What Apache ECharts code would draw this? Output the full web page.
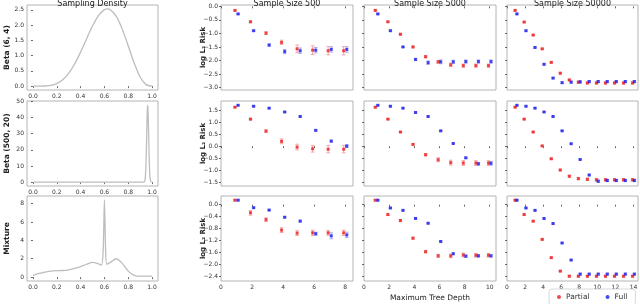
<!DOCTYPE html>
<html><head><meta charset="utf-8">
<script src="https://cdn.jsdelivr.net/npm/echarts@6/dist/echarts.min.js"></script>
<style>html,body{margin:0;padding:0;background:#fff}#c{width:640px;height:304px}</style>
</head><body><div id="c"></div>
<script>
// ---------- Sampling densities ----------
const beta64X = [0,0.05,0.1,0.15,0.2,0.25,0.3,0.35,0.4,0.45,0.5,0.55,0.6,0.625,0.65,0.7,0.75,0.8,0.85,0.9,0.95,1.0];
const beta64Y = [0,0,0.004,0.024,0.083,0.208,0.42,0.727,1.115,1.547,1.969,2.311,2.508,2.535,2.508,2.287,1.869,1.321,0.755,0.298,0.049,0];
const beta50020X = [0,0.1,0.2,0.3,0.4,0.5,0.6,0.7,0.8,0.9,0.93,0.94,0.945,0.95,0.955,0.96,0.9633,0.965,0.97,0.975,0.98,0.985,0.99,0.995,1.0];
const beta50020Y = [0,0,0,0,0,0,0,0,0,0,0.02,1.0,4.4,13.6,29.0,43.9,47.4,46.5,34.4,18.0,6.5,1.7,0.3,0.02,0];
const mixtureX = [0,0.05,0.1,0.15,0.2,0.25,0.3,0.35,0.4,0.45,0.5,0.55,0.575,0.59,0.6,0.61,0.62,0.65,0.7,0.75,0.8,0.85,0.9,1.0];
const mixtureY = [0.2,0.4,0.55,0.65,0.7,0.72,0.8,0.95,1.15,1.4,1.6,1.45,1.3,3.0,8.4,3.0,1.4,1.6,2.0,1.5,0.65,0.2,0.1,0.1];

// ---------- Tree depths ----------
const depth500 = [1,2,3,4,5,6,7,8];
const depth5000 = [1,2,3,4,5,6,7,8,9,10];
const depth50000 = [1,2,3,4,5,6,7,8,9,10,11,12,13,14];

// ---------- Beta(6,4) log L2 risk ----------
const b64_500_partial = [-0.15,-0.57,-0.99,-1.33,-1.57,-1.62,-1.64,-1.64];
const b64_500_full = [-0.28,-0.9,-1.43,-1.67,-1.64,-1.62,-1.59,-1.59];
const b64_500_partialErr = [0.02,0.03,0.05,0.08,0.14,0.16,0.15,0.15];
const b64_500_fullErr = [0.02,0.02,0.04,0.08,0.1,0.1,0.1,0.1];
const b64_5000_partial = [-0.15,-0.57,-1.03,-1.5,-1.86,-2.05,-2.16,-2.19,-2.19,-2.19];
const b64_5000_full = [-0.28,-0.9,-1.5,-1.96,-2.08,-2.05,-2.05,-2.04,-2.04,-2.04];
const b64_5000_partialErr = [0.02,0.02,0.02,0.03,0.04,0.05,0.06,0.06,0.06,0.06];
const b64_5000_fullErr = [0.02,0.02,0.02,0.03,0.06,0.07,0.06,0.06,0.06,0.06];
const b64_50000_partial = [-0.15,-0.58,-1.06,-1.57,-2.07,-2.47,-2.72,-2.8,-2.83,-2.83,-2.83,-2.83,-2.83,-2.83];
const b64_50000_full = [-0.28,-0.9,-1.52,-2.14,-2.65,-2.82,-2.8,-2.79,-2.78,-2.78,-2.78,-2.78,-2.78,-2.78];
const b64_50000_partialErr = [0.02,0.02,0.02,0.02,0.02,0.03,0.03,0.04,0.04,0.04,0.04,0.04,0.04,0.04];
const b64_50000_fullErr = [0.02,0.02,0.02,0.02,0.02,0.03,0.04,0.04,0.04,0.04,0.04,0.04,0.04,0.04];

// ---------- Beta(500,20) log L2 risk ----------
const b520_500_partial = [1.63,1.13,0.63,0.2,-0.04,-0.11,-0.13,-0.13];
const b520_500_full = [1.71,1.67,1.59,1.43,1.24,0.66,0.21,0.0];
const b520_500_partialErr = [0.02,0.03,0.05,0.1,0.12,0.14,0.15,0.15];
const b520_500_fullErr = [0.02,0.02,0.02,0.02,0.02,0.03,0.04,0.06];
const b520_5000_partial = [1.63,1.13,0.59,0.07,-0.36,-0.57,-0.69,-0.71,-0.71,-0.71];
const b520_5000_full = [1.71,1.67,1.59,1.41,1.24,0.64,0.11,-0.49,-0.74,-0.72];
const b520_5000_partialErr = [0.02,0.02,0.02,0.03,0.05,0.08,0.1,0.1,0.1,0.1];
const b520_5000_fullErr = [0.02,0.02,0.02,0.02,0.02,0.02,0.02,0.03,0.06,0.08];
const b520_50000_partial = [1.63,1.13,0.59,0.01,-0.53,-1.0,-1.26,-1.36,-1.39,-1.41,-1.41,-1.41,-1.41,-1.41];
const b520_50000_full = [1.71,1.67,1.59,1.43,1.24,0.64,0.1,-0.56,-1.21,-1.47,-1.44,-1.44,-1.44,-1.44];
const b520_50000_partialErr = [0.02,0.02,0.02,0.02,0.03,0.03,0.04,0.05,0.05,0.05,0.05,0.05,0.05,0.05];
const b520_50000_fullErr = [0.02,0.02,0.02,0.02,0.02,0.02,0.02,0.02,0.03,0.05,0.05,0.05,0.05,0.05];

// ---------- Mixture log L2 risk ----------
const mix_500_partial = [0.15,-0.27,-0.5,-0.85,-0.95,-0.94,-0.94,-0.94];
const mix_500_full = [0.15,-0.1,-0.18,-0.42,-0.55,-0.97,-1.04,-1.01];
const mix_500_partialErr = [0.02,0.08,0.06,0.08,0.08,0.09,0.08,0.09];
const mix_500_fullErr = [0.02,0.02,0.02,0.02,0.03,0.05,0.1,0.09];
const mix_5000_partial = [0.15,-0.33,-0.53,-1.12,-1.57,-1.71,-1.71,-1.68,-1.69,-1.69];
const mix_5000_full = [0.15,-0.11,-0.19,-0.46,-0.62,-1.23,-1.64,-1.72,-1.71,-1.71];
const mix_5000_partialErr = [0.02,0.03,0.03,0.03,0.04,0.05,0.06,0.06,0.06,0.06];
const mix_5000_fullErr = [0.02,0.02,0.02,0.02,0.02,0.02,0.03,0.04,0.04,0.04];
const mix_50000_partial = [0.15,-0.33,-0.55,-1.16,-1.77,-2.22,-2.39,-2.39,-2.39,-2.39,-2.39,-2.39,-2.39,-2.39];
const mix_50000_full = [0.15,-0.11,-0.19,-0.46,-0.63,-1.28,-1.85,-2.32,-2.32,-2.32,-2.32,-2.32,-2.32,-2.32];
const mix_50000_partialErr = [0.02,0.02,0.02,0.02,0.02,0.02,0.03,0.03,0.03,0.03,0.03,0.03,0.03,0.03];
const mix_50000_fullErr = [0.02,0.02,0.02,0.02,0.02,0.02,0.02,0.03,0.03,0.03,0.03,0.03,0.03,0.03];

// ---------- Tick labels & texts ----------
const densXTicks = [0,0.2,0.4,0.6,0.8,1.0];
const beta64YTicks = [0,0.5,1.0,1.5,2.0,2.5];
const beta50020YTicks = [0,10,20,30,40,50];
const mixtureYTicks = [0,2,4,6,8];
const b64RiskTicks = [0,-0.5,-1.0,-1.5,-2.0,-2.5,-3.0];
const b520RiskTicks = [1.5,1.0,0.5,0.0,-0.5,-1.0,-1.5];
const mixRiskTicks = [0,-0.4,-0.8,-1.2,-1.6,-2.0,-2.4];
const depthTicks500 = [0,2,4,6,8];
const depthTicks5000 = [0,2,4,6,8,10];
const depthTicks50000 = [0,2,4,6,8,10,12,14];
const rowNames = ['Beta (6, 4)', 'Beta (500, 20)', 'Mixture'];
const colTitles = ['Sampling Density', 'Sample Size 500', 'Sample Size 5000', 'Sample Size 50000'];
const seriesNames = ['Partial', 'Full'];

// ---------- layout ----------
const FONT = 'DejaVu Sans';
const RED = '#ee1d1d', BLUE = '#1d1dee';
const RED_ERR = '#f4a6a6', BLUE_ERR = '#aaaaf2';
const colLeft = [27, 221, 364, 507];
const colW = [131, 132, 132, 131];
const rowTop = [5, 101, 196];
const rowH = 85;

const grids = [], xAxes = [], yAxes = [], series = [];

function fmt1(v){ return (v < 0 ? '\u2212' : '') + Math.abs(v).toFixed(1); }
function fmt0(v){ return (v < 0 ? '\u2212' : '') + Math.abs(v).toFixed(0); }

function mkAxis(gi, min, max, ticks, showLab, fmt) {
  return {
    type: 'value', gridIndex: gi, min: min, max: max,
    axisLine: {show: false},
    axisTick: {show: true, customValues: ticks, length: 2, lineStyle: {color: '#444', width: 0.8}},
    axisLabel: {show: showLab, customValues: ticks, formatter: fmt, fontSize: 6, color: '#333', fontFamily: FONT, margin: 3},
    splitLine: {show: false},
    nameMoveOverlap: false
  };
}

function addGrid(r, c) {
  grids.push({left: colLeft[c], top: rowTop[r], width: colW[c], height: rowH, show: true,
    borderColor: '#b4b4b4', borderWidth: 1, containLabel: false, outerBoundsMode: 'none'});
  return grids.length - 1;
}

const densData = [[beta64X, beta64Y, [-0.127, 2.66], beta64YTicks, fmt1],
                  [beta50020X, beta50020Y, [-2.4, 50.2], beta50020YTicks, fmt0],
                  [mixtureX, mixtureY, [-0.42, 8.82], mixtureYTicks, fmt0]];
const riskData = [
  {yr: [-3.09, 0.05], ticks: b64RiskTicks, cols: [
    [depth500, b64_500_partial, b64_500_full, b64_500_partialErr, b64_500_fullErr],
    [depth5000, b64_5000_partial, b64_5000_full, b64_5000_partialErr, b64_5000_fullErr],
    [depth50000, b64_50000_partial, b64_50000_full, b64_50000_partialErr, b64_50000_fullErr]]},
  {yr: [-1.67, 1.89], ticks: b520RiskTicks, cols: [
    [depth500, b520_500_partial, b520_500_full, b520_500_partialErr, b520_500_fullErr],
    [depth5000, b520_5000_partial, b520_5000_full, b520_5000_partialErr, b520_5000_fullErr],
    [depth50000, b520_50000_partial, b520_50000_full, b520_50000_partialErr, b520_50000_fullErr]]},
  {yr: [-2.55, 0.29], ticks: mixRiskTicks, cols: [
    [depth500, mix_500_partial, mix_500_full, mix_500_partialErr, mix_500_fullErr],
    [depth5000, mix_5000_partial, mix_5000_full, mix_5000_partialErr, mix_5000_fullErr],
    [depth50000, mix_50000_partial, mix_50000_full, mix_50000_partialErr, mix_50000_fullErr]]}
];
const xMax = [8.5, 10.5, 14.5];
const xTicks = [depthTicks500, depthTicks5000, depthTicks50000];

function errRenderer(color) {
  return function (params, api) {
    const x = api.value(0), y = api.value(1), e = api.value(2);
    const a = api.coord([x, y + e]), b = api.coord([x, y - e]);
    const cw = 1.8;
    const st = {stroke: color, lineWidth: 1};
    return {type: 'group', children: [
      {type: 'line', shape: {x1: a[0], y1: a[1], x2: b[0], y2: b[1]}, style: st},
      {type: 'line', shape: {x1: a[0] - cw, y1: a[1], x2: a[0] + cw, y2: a[1]}, style: st},
      {type: 'line', shape: {x1: b[0] - cw, y1: b[1], x2: b[0] + cw, y2: b[1]}, style: st}
    ]};
  };
}

for (let r = 0; r < 3; r++) {
  const gi = addGrid(r, 0);
  const d = densData[r];
  xAxes.push(mkAxis(gi, -0.05, 1.05, densXTicks, true, fmt1));
  const ya = mkAxis(gi, d[2][0], d[2][1], d[3], true, d[4]);
  ya.name = rowNames[r]; ya.nameLocation = 'middle'; ya.nameGap = 16; ya.nameRotate = 90;
  ya.nameTextStyle = {fontSize: 7.5, fontWeight: 'bold', color: '#222', fontFamily: FONT};
  yAxes.push(ya);
  series.push({type: 'line', xAxisIndex: gi, yAxisIndex: gi, data: d[0].map((x, i) => [x, d[1][i]]),
    showSymbol: false, smooth: 0.25, lineStyle: {color: '#bdbdbd', width: 1.3}, silent: true});

  for (let c = 0; c < 3; c++) {
    const g = addGrid(r, c + 1);
    const rd = riskData[r];
    const cd = rd.cols[c];
    const xa2 = mkAxis(g, 0, xMax[c], xTicks[c], r === 2, fmt0);
    if (r === 2 && c === 1) {
      xa2.name = 'Maximum Tree Depth'; xa2.nameLocation = 'middle'; xa2.nameGap = 13;
      xa2.nameTextStyle = {fontSize: 7.5, color: '#222', fontFamily: FONT};
    }
    xAxes.push(xa2);
    const ya2 = mkAxis(g, rd.yr[0], rd.yr[1], rd.ticks, c === 0, fmt1);
    if (c === 0) {
      ya2.name = 'log L\u2082 Risk'; ya2.nameLocation = 'middle'; ya2.nameGap = 14; ya2.nameRotate = 90;
      ya2.nameTextStyle = {fontSize: 7, fontWeight: 'bold', color: '#222', fontFamily: FONT};
    }
    yAxes.push(ya2);
    const depths = cd[0];
    const specs = [[cd[1], cd[3], -0.1, RED, RED_ERR, seriesNames[0]], [cd[2], cd[4], 0.1, BLUE, BLUE_ERR, seriesNames[1]]];
    specs.forEach(s => {
      series.push({type: 'custom', name: s[5] + ' err', xAxisIndex: g, yAxisIndex: g,
        renderItem: errRenderer(s[4]), data: depths.map((dd, i) => [dd + s[2], s[0][i], s[1][i]]), silent: true});
    });
    specs.forEach(s => {
      series.push({type: 'scatter', name: s[5], xAxisIndex: g, yAxisIndex: g, symbol: 'rect', symbolSize: 3,
        itemStyle: {color: s[3]}, data: depths.map((dd, i) => [dd + s[2], s[0][i]]), silent: true});
    });
  }
}

const titleCenters = colLeft.map((l, i) => l + colW[i] / 2);
const graphics = colTitles.map((t, i) => ({type: 'text', x: titleCenters[i], y: 0,
  style: {text: t, textAlign: 'center', textVerticalAlign: 'top', align: 'center', verticalAlign: 'top',
    fontSize: 8, fill: '#222', fontFamily: FONT}}));

const chart = echarts.init(document.getElementById('c'), null, {renderer: 'canvas'});
chart.setOption({
  animation: false,
  backgroundColor: '#fff',
  grid: grids, xAxis: xAxes, yAxis: yAxes, series: series,
  graphic: graphics,
  legend: {data: [{name: 'Partial', icon: 'circle'}, {name: 'Full', icon: 'circle'}],
    left: 549, top: 289, orient: 'horizontal', backgroundColor: '#fff', borderColor: '#d8d8d8', borderWidth: 1,
    borderRadius: 3, padding: [4, 8, 4, 8], itemWidth: 4, itemHeight: 4, itemGap: 16,
    textStyle: {fontSize: 7.5, color: '#333', fontFamily: FONT}}
});
</script></body></html>
